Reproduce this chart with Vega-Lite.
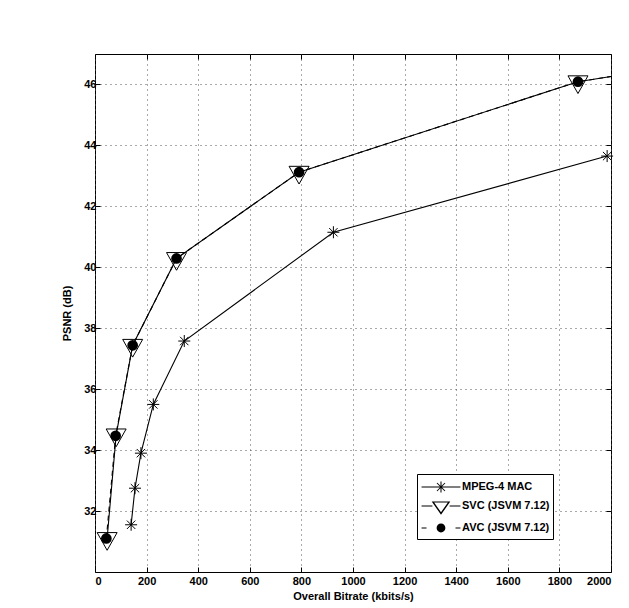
{
  "$schema": "https://vega.github.io/schema/vega-lite/v6.json",
  "width": 516,
  "height": 518,
  "autosize": {"type": "none"},
  "padding": {"left": 95, "top": 54, "right": 18, "bottom": 36},
  "background": "white",
  "config": {
    "font": "Liberation Sans",
    "view": {"stroke": "black", "strokeWidth": 1},
    "axis": {
      "domain": false,
      "tickSize": -5,
      "tickColor": "black",
      "tickWidth": 1,
      "labelPadding": 4,
      "labelFont": "Liberation Sans",
      "labelFontSize": 11,
      "labelFontWeight": "bold",
      "labelColor": "black",
      "titleFont": "Liberation Sans",
      "titleFontSize": 11,
      "titleFontWeight": "bold",
      "titleColor": "black",
      "gridColor": "#555555",
      "gridDash": [1, 4],
      "gridWidth": 1,
      "gridOpacity": 1
    },
    "legend": {
      "orient": "none",
      "legendX": 322,
      "legendY": 420,
      "padding": 3,
      "strokeColor": "black",
      "fillColor": "white",
      "cornerRadius": 0,
      "symbolSize": 324,
      "symbolOffset": 11,
      "rowPadding": 0,
      "labelOffset": 11,
      "labelFont": "Liberation Sans",
      "labelFontSize": 11,
      "labelFontWeight": "bold",
      "labelColor": "black"
    }
  },
  "data": {
    "values": [
      {"series": "MPEG-4 MAC", "bitrate": 140, "psnr": 31.55},
      {"series": "MPEG-4 MAC", "bitrate": 155, "psnr": 32.75},
      {"series": "MPEG-4 MAC", "bitrate": 178, "psnr": 33.9},
      {"series": "MPEG-4 MAC", "bitrate": 226, "psnr": 35.5},
      {"series": "MPEG-4 MAC", "bitrate": 346, "psnr": 37.58},
      {"series": "MPEG-4 MAC", "bitrate": 924, "psnr": 41.15},
      {"series": "MPEG-4 MAC", "bitrate": 1985, "psnr": 43.65},
      {"series": "SVC (JSVM 7.12)", "bitrate": 47, "psnr": 31.1},
      {"series": "SVC (JSVM 7.12)", "bitrate": 82, "psnr": 34.5},
      {"series": "SVC (JSVM 7.12)", "bitrate": 146, "psnr": 37.44},
      {"series": "SVC (JSVM 7.12)", "bitrate": 316, "psnr": 40.29},
      {"series": "SVC (JSVM 7.12)", "bitrate": 791, "psnr": 43.12},
      {"series": "SVC (JSVM 7.12)", "bitrate": 1872, "psnr": 46.09},
      {"series": "SVC (JSVM 7.12)", "bitrate": 2000, "psnr": 46.26},
      {"series": "AVC (JSVM 7.12)", "bitrate": 44, "psnr": 31.1},
      {"series": "AVC (JSVM 7.12)", "bitrate": 80, "psnr": 34.47},
      {"series": "AVC (JSVM 7.12)", "bitrate": 146, "psnr": 37.44},
      {"series": "AVC (JSVM 7.12)", "bitrate": 316, "psnr": 40.29},
      {"series": "AVC (JSVM 7.12)", "bitrate": 791, "psnr": 43.12},
      {"series": "AVC (JSVM 7.12)", "bitrate": 1872, "psnr": 46.09},
      {"series": "AVC (JSVM 7.12)", "bitrate": 2000, "psnr": 46.26}
    ]
  },
  "layer": [
    {
      "transform": [{"filter": "datum.series === 'SVC (JSVM 7.12)'"}],
      "mark": {"type": "line", "color": "black", "strokeWidth": 1.1},
      "encoding": {
        "x": {"field": "bitrate", "type": "quantitative", "scale": {"domain": [0, 2000], "nice": false},
          "axis": {"orient": "bottom", "title": "Overall Bitrate (kbits/s)", "format": "d", "labelPadding": 8, "values": [0, 200, 400, 600, 800, 1000, 1200, 1400, 1600, 1800, 2000], "grid": true, "titlePadding": 4}},
        "y": {"field": "psnr", "type": "quantitative", "scale": {"domain": [30, 47], "nice": false, "zero": false},
          "axis": {"orient": "left", "title": "PSNR (dB)", "format": "d", "labelPadding": 4, "values": [32, 34, 36, 38, 40, 42, 44, 46], "grid": true, "titlePadding": 11}},
        "order": {"field": "bitrate", "type": "quantitative"}
      }
    },
    {
      "transform": [{"filter": "datum.series === 'MPEG-4 MAC'"}],
      "mark": {"type": "line", "color": "black", "strokeWidth": 1.1},
      "encoding": {
        "x": {"field": "bitrate", "type": "quantitative",
          "axis": {"orient": "top", "title": null, "labels": false, "grid": false, "values": [0, 200, 400, 600, 800, 1000, 1200, 1400, 1600, 1800, 2000]}},
        "y": {"field": "psnr", "type": "quantitative",
          "axis": {"orient": "right", "title": null, "labels": false, "grid": false, "values": [32, 34, 36, 38, 40, 42, 44, 46]}},
        "order": {"field": "bitrate", "type": "quantitative"}
      }
    },
    {
      "transform": [{"filter": "datum.series === 'AVC (JSVM 7.12)'"}],
      "mark": {"type": "line", "color": "black", "strokeWidth": 1.1, "strokeDash": [5, 4]},
      "encoding": {
        "x": {"field": "bitrate", "type": "quantitative", "axis": null},
        "y": {"field": "psnr", "type": "quantitative", "axis": null},
        "order": {"field": "bitrate", "type": "quantitative"}
      }
    },
    {
      "transform": [{"filter": "datum.series === 'SVC (JSVM 7.12)' && datum.bitrate < 1999"}],
      "mark": {"type": "point", "shape": "M-1,-0.59L1,-0.59L0,1.18Z", "size": 400, "filled": false, "stroke": "black", "strokeWidth": 1, "opacity": 1},
      "encoding": {
        "x": {"field": "bitrate", "type": "quantitative", "axis": null},
        "y": {"field": "psnr", "type": "quantitative", "axis": null}
      }
    },
    {
      "transform": [{"filter": "datum.series === 'AVC (JSVM 7.12)' && datum.bitrate < 1999"}],
      "mark": {"type": "point", "shape": "circle", "size": 115, "filled": true, "color": "black", "opacity": 1},
      "encoding": {
        "x": {"field": "bitrate", "type": "quantitative", "axis": null},
        "y": {"field": "psnr", "type": "quantitative", "axis": null}
      }
    },
    {
      "transform": [{"filter": "datum.series === 'MPEG-4 MAC'"}],
      "mark": {"type": "point", "shape": "M-1,0H1M0,-1V1M-0.7,-0.7L0.7,0.7M-0.7,0.7L0.7,-0.7", "size": 144, "filled": false, "stroke": "black", "strokeWidth": 1, "opacity": 1},
      "encoding": {
        "x": {"field": "bitrate", "type": "quantitative", "axis": null},
        "y": {"field": "psnr", "type": "quantitative", "axis": null}
      }
    },
    {
      "transform": [{"filter": "false"}],
      "mark": {"type": "point", "filled": true, "color": "black", "opacity": 1},
      "encoding": {
        "x": {"field": "bitrate", "type": "quantitative", "axis": null},
        "y": {"field": "psnr", "type": "quantitative", "axis": null},
        "shape": {"field": "series", "type": "nominal",
          "scale": {"domain": ["MPEG-4 MAC", "SVC (JSVM 7.12)", "AVC (JSVM 7.12)"],
            "range": [
              "M-2.16,-0.056H2.16V0.056H-2.16ZM-0.056,-0.6H0.056V0.6H-0.056ZM-0.406,-0.483L0.483,0.406L0.406,0.483L-0.483,-0.406ZM-0.406,0.483L-0.483,0.406L0.406,-0.483L0.483,-0.406Z",
              "M-2.16,-0.056H-0.956V0.056H-2.16ZM0.956,-0.056H2.16V0.056H0.956ZM-1.033,-0.511L1.033,-0.511L0,0.978ZM-0.762,-0.4L0,0.7L0.762,-0.4Z",
              "M-2.16,-0.056H-1.611V0.056H-2.16ZM1.611,-0.056H2.16V0.056H1.611ZM0.489,0A0.489,0.489 0 1,1 -0.489,0A0.489,0.489 0 1,1 0.489,0Z"
            ]},
          "legend": {"title": null}}
      }
    }
  ],
  "resolve": {"axis": {"x": "independent", "y": "independent"}}
}
